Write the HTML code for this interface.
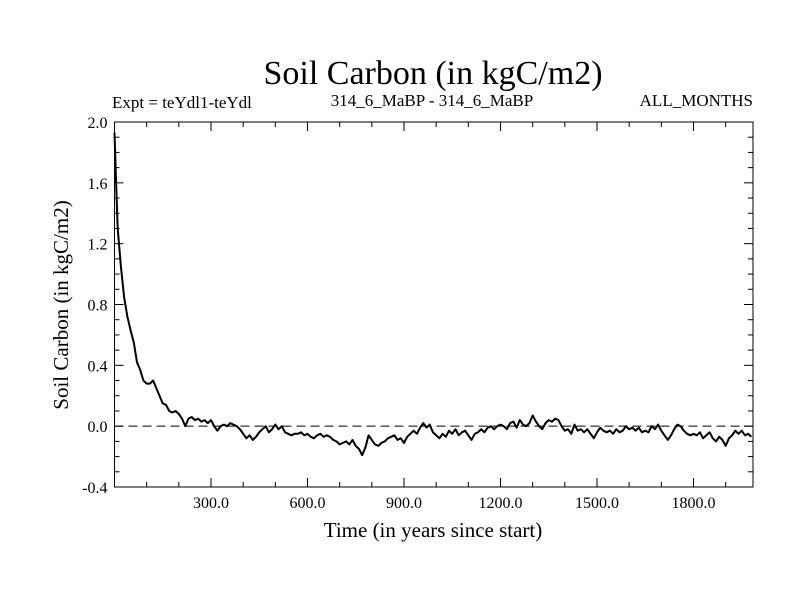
<!DOCTYPE html>
<html><head><meta charset="utf-8"><style>
body{margin:0;background:#fff}
svg text{font-family:"Liberation Serif",serif;fill:#000}
</style></head><body>
<svg id="chart" width="800" height="600" viewBox="0 0 800 600" xmlns="http://www.w3.org/2000/svg">
<text x="433" y="84" font-size="34" text-anchor="middle">Soil Carbon (in kgC/m2)</text>
<text x="112" y="108" font-size="17">Expt = teYdl1-teYdl</text>
<text x="432" y="106" font-size="17" text-anchor="middle">314_6_MaBP - 314_6_MaBP</text>
<text x="753" y="106" font-size="17" text-anchor="end">ALL_MONTHS</text>
<text x="0" y="0" font-size="21" text-anchor="middle" transform="translate(68,305) rotate(-90)">Soil Carbon (in kgC/m2)</text>
<text x="433" y="537" font-size="21" text-anchor="middle">Time (in years since start)</text>
<g id="axes"></g>
<g id="series"></g>
</svg>
<script>
const yearsSinceStart=[0,5,10,20,30,40,50,60,70,80,90,100,110,120,130,140,150,160,170,180,190,200,210,220,230,240,250,260,270,280,290,300,310,320,330,340,350,360,370,380,390,400,410,420,430,440,450,460,470,480,490,500,510,520,530,540,550,560,570,580,590,600,610,620,630,640,650,660,670,680,690,700,710,720,730,740,750,760,770,780,790,800,810,820,830,840,850,860,870,880,890,900,910,920,930,940,950,960,970,980,990,1000,1010,1020,1030,1040,1050,1060,1070,1080,1090,1100,1110,1120,1130,1140,1150,1160,1170,1180,1190,1200,1210,1220,1230,1240,1250,1260,1270,1280,1290,1300,1310,1320,1330,1340,1350,1360,1370,1380,1390,1400,1410,1420,1430,1440,1450,1460,1470,1480,1490,1500,1510,1520,1530,1540,1550,1560,1570,1580,1590,1600,1610,1620,1630,1640,1650,1660,1670,1680,1690,1700,1710,1720,1730,1740,1750,1760,1770,1780,1790,1800,1810,1820,1830,1840,1850,1860,1870,1880,1890,1900,1910,1920,1930,1940,1950,1960,1970,1980];
const soilCarbon=[1.93,1.6,1.3,1.05,0.85,0.72,0.63,0.55,0.42,0.37,0.3,0.28,0.28,0.3,0.25,0.2,0.15,0.14,0.1,0.09,0.1,0.08,0.05,0.0,0.05,0.06,0.04,0.05,0.03,0.04,0.02,0.04,0.0,-0.03,0.0,0.01,0.0,0.02,0.01,0.0,-0.02,-0.05,-0.08,-0.06,-0.09,-0.07,-0.04,-0.02,0.0,-0.04,-0.02,0.01,-0.02,0.0,-0.04,-0.05,-0.06,-0.05,-0.05,-0.04,-0.06,-0.05,-0.07,-0.08,-0.06,-0.05,-0.07,-0.06,-0.07,-0.09,-0.1,-0.12,-0.11,-0.1,-0.12,-0.09,-0.13,-0.15,-0.19,-0.14,-0.06,-0.09,-0.12,-0.13,-0.11,-0.1,-0.08,-0.07,-0.06,-0.09,-0.08,-0.11,-0.07,-0.05,-0.03,-0.05,-0.01,0.02,-0.01,0.01,-0.04,-0.06,-0.08,-0.05,-0.07,-0.03,-0.05,-0.02,-0.06,-0.04,-0.03,-0.06,-0.09,-0.05,-0.04,-0.02,-0.04,-0.01,0.0,-0.02,0.0,0.01,0.0,-0.02,0.02,0.03,-0.01,0.04,0.01,0.0,0.02,0.07,0.03,0.0,-0.02,0.02,0.04,0.03,0.05,0.04,0.0,-0.03,-0.02,-0.05,0.01,-0.03,-0.02,-0.04,-0.02,-0.05,-0.08,-0.04,-0.01,-0.03,-0.04,-0.03,-0.05,-0.02,-0.04,-0.03,0.0,-0.02,-0.01,-0.03,-0.01,-0.04,-0.03,-0.04,0.0,-0.02,0.01,-0.03,-0.06,-0.09,-0.06,-0.02,0.01,0.0,-0.03,-0.05,-0.06,-0.05,-0.06,-0.04,-0.08,-0.06,-0.04,-0.08,-0.1,-0.07,-0.09,-0.13,-0.08,-0.06,-0.03,-0.05,-0.03,-0.06,-0.05,-0.07];
const xTickValues=[300,600,900,1200,1500,1800];
const xTickLabels=["300.0","600.0","900.0","1200.0","1500.0","1800.0"];
const yTickValues=[-0.4,0.0,0.4,0.8,1.2,1.6,2.0];
const yTickLabels=["-0.4","0.0","0.4","0.8","1.2","1.6","2.0"];

const L=114.5,R=753,T=122,B=487,XMAX=1985,YMIN=-0.4,YMAX=2.0;
const xs=v=>L+(v/XMAX)*(R-L);
const ys=v=>B-(v-YMIN)/(YMAX-YMIN)*(B-T);
const NS="http://www.w3.org/2000/svg";
const axes=document.getElementById('axes');
const series=document.getElementById('series');
function mk(tag,attrs,parent){const e=document.createElementNS(NS,tag);for(const k in attrs)e.setAttribute(k,attrs[k]);parent.appendChild(e);return e;}

const frame=mk('rect',{x:L,y:T,width:R-L,height:B-T,fill:'none',stroke:'#000','stroke-width':1},axes);



const zl=mk('line',{x1:L,x2:R,y1:ys(0),y2:ys(0),stroke:'#000','stroke-width':1,'stroke-dasharray':'9,5'},axes);



for(let v=100;v<XMAX;v+=100){
  const major=v%300===0,len=major?9:5,x=xs(v);
  const t1=mk('line',{x1:x,x2:x,y1:B,y2:B-len,stroke:'#000'},axes);
  
  
  const t2=mk('line',{x1:x,x2:x,y1:T,y2:T+len,stroke:'#000'},axes);
  
  
}
xTickValues.forEach((v,i)=>{
  const t=mk('text',{x:xs(v),y:B+21,'font-size':16,'text-anchor':'middle'},axes);
  t.textContent=xTickLabels[i];
  
  
});
for(let k=-3;k<=20;k++){
  const v=k/10,major=k%4===0,len=major?9:5,y=ys(v);
  const t1=mk('line',{x1:L,x2:L+len,y1:y,y2:y,stroke:'#000'},axes);
  
  
  const t2=mk('line',{x1:R,x2:R-len,y1:y,y2:y,stroke:'#000'},axes);
  
  
}
yTickValues.forEach((v,i)=>{
  const t=mk('text',{x:L-7,y:ys(v)+6,'font-size':16,'text-anchor':'end'},axes);
  t.textContent=yTickLabels[i];
  
  
});

const d=yearsSinceStart.map((x,i)=>(i?'L':'M')+xs(x).toFixed(1)+','+ys(soilCarbon[i]).toFixed(1)).join('');
const p=mk('path',{d:d,fill:'none',stroke:'#000','stroke-width':2,'stroke-linejoin':'round'},series);


</script>
</body></html>
